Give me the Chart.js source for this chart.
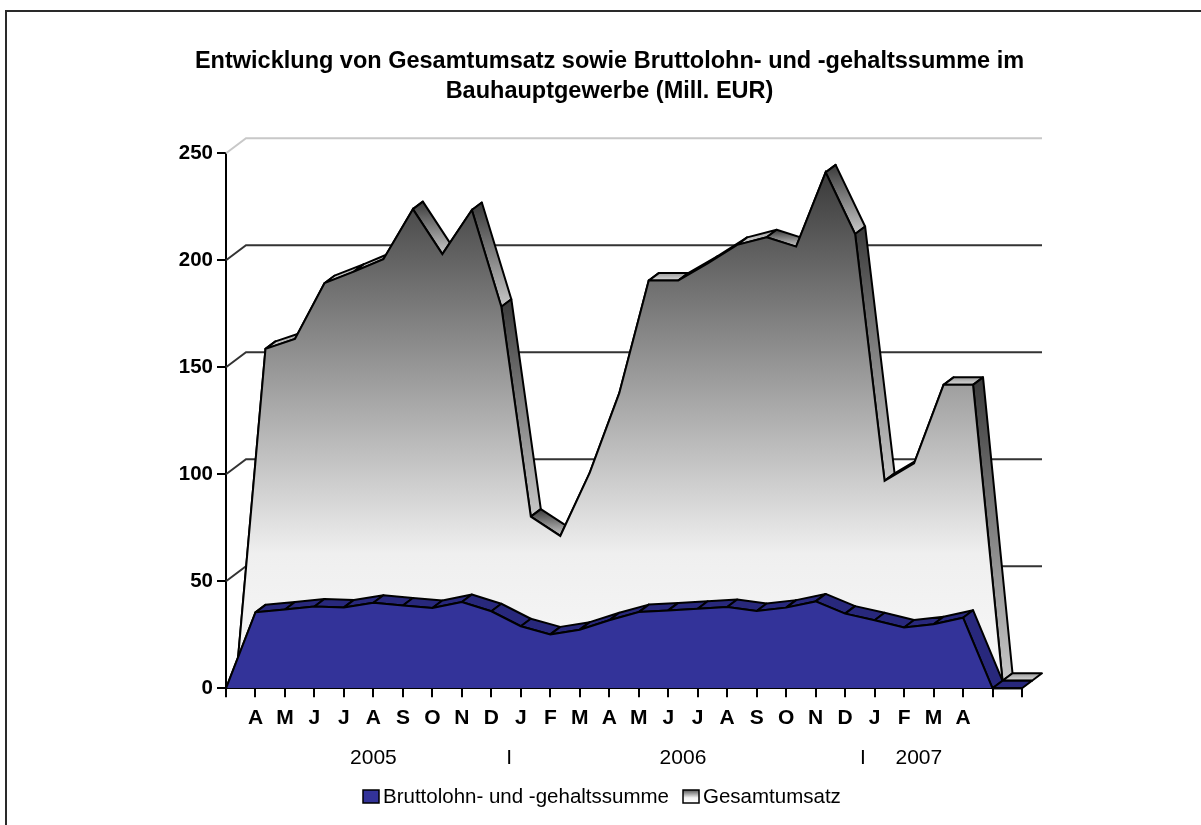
<!DOCTYPE html>
<html>
<head>
<meta charset="utf-8">
<script src="https://cdn.jsdelivr.net/npm/chart.js@4/dist/chart.umd.min.js"></script>
<style>
  html, body { margin: 0; padding: 0; background: #fff; overflow: hidden; }
  #wrap { position: relative; width: 1201px; height: 825px; }
  #frame { position: absolute; left: 5px; top: 10px; width: 1300px; height: 900px; border: 2px solid #2a2a2a; }
  canvas { position: absolute; left: 0; top: 0; }
</style>
</head>
<body>
<div id="wrap">
  <div id="frame"></div>
  <canvas id="chart" width="1201" height="825"></canvas>
</div>
<script>
// x categories: empty slot, Apr 2005 .. Apr 2007, two empty slots
const months = ["", "A", "M", "J", "J", "A", "S", "O", "N", "D", "J", "F", "M",
  "A", "M", "J", "J", "A", "S", "O", "N", "D", "J", "F", "M", "A", "", ""];

const lohnsumme = [0, 35.5, 36.8, 38.2, 37.8, 40.0, 38.7, 37.5, 40.3, 36.0, 29.0, 25.2, 27.4,
  31.8, 35.6, 36.4, 37.2, 38.0, 36.1, 37.7, 40.6, 34.9, 31.8, 28.4, 29.9, 33.0, 0, 0];

const umsatz = [0, 155.1, 159.7, 185.8, 191.2, 197.0, 220.4, 199.4, 220.0, 174.8, 76.7, 67.7, 97.3,
  134.4, 187.0, 187.0, 195.0, 203.7, 207.3, 202.9, 237.6, 208.8, 93.4, 101.6, 138.3, 138.3, 0, 0];

const years = ["2005", "2006", "2007"];
const yearFirst = [1, 10, 22];
const yearLast = [9, 21, 25];

const titleLines = [
  "Entwicklung von Gesamtumsatz sowie Bruttolohn- und -gehaltssumme im",
  "Bauhauptgewerbe (Mill. EUR)"
];

const FONT = '"Liberation Sans", Arial, sans-serif';
const DEPTH = { x: 10, y: -7.5 };   // thickness of one series ribbon
const BACK = { x: 10, y: -7.5 };    // offset of the rear series
const WALL = { x: 20, y: -15 };     // offset of the back wall

function vGradient(ctx, top, bottom, stops) {
  const g = ctx.createLinearGradient(0, top, 0, bottom + 0.01);
  stops.forEach(s => g.addColorStop(s[0], s[1]));
  return g;
}

function greyFace(ctx, quad, slope) {
  const ys = quad.map(p => p.y);
  const top = Math.min(...ys), bottom = Math.max(...ys);
  if (slope > 0.05) return vGradient(ctx, top, bottom, [[0, "#3a3a3a"], [1, "#c8c8c8"]]);
  return vGradient(ctx, top, bottom, [[0, "#9c9c9c"], [1, "#dcdcdc"]]);
}

function blueFace() {
  return "#28287c";
}

function drawRibbon(chart, index, shift, colorFor) {
  const ctx = chart.ctx;
  const pts = chart.getDatasetMeta(index).data;
  ctx.save();
  ctx.lineWidth = 2;
  ctx.strokeStyle = "#000";
  ctx.lineJoin = "round";
  for (let i = 0; i < pts.length - 1; i++) {
    const a = { x: pts[i].x + shift.x, y: pts[i].y + shift.y };
    const b = { x: pts[i + 1].x + shift.x, y: pts[i + 1].y + shift.y };
    const quad = [a, b, { x: b.x + DEPTH.x, y: b.y + DEPTH.y }, { x: a.x + DEPTH.x, y: a.y + DEPTH.y }];
    const slope = (b.y - a.y) / (b.x - a.x);
    ctx.beginPath();
    quad.forEach((p, k) => (k ? ctx.lineTo(p.x, p.y) : ctx.moveTo(p.x, p.y)));
    ctx.closePath();
    ctx.fillStyle = colorFor(ctx, quad, slope);
    ctx.fill();
    ctx.stroke();
  }
  ctx.restore();
}

// back wall, ribbons and the offset of the rear series
const depthPlugin = {
  id: "depth",
  beforeDatasetsDraw(chart) {
    const { ctx, chartArea: area, scales: { y } } = chart;
    ctx.save();
    ctx.lineWidth = 2;
    y.ticks.forEach(t => {
      if (t.value === 0) return;
      const py = y.getPixelForValue(t.value);
      ctx.strokeStyle = t.value === y.max ? "#c8c8c8" : "#333";
      ctx.beginPath();
      ctx.moveTo(area.left, py);
      ctx.lineTo(area.left + WALL.x, py + WALL.y);
      ctx.lineTo(area.right + WALL.x, py + WALL.y);
      ctx.stroke();
    });
    ctx.restore();
    drawRibbon(chart, 1, BACK, greyFace);
    ctx.save();
    ctx.translate(BACK.x, BACK.y);
  },
  afterDatasetDraw(chart, args) {
    if (args.index === 1) {
      chart.ctx.restore();
      drawRibbon(chart, 0, { x: 0, y: 0 }, blueFace);
    }
  },
  afterDraw(chart) {
    const { ctx, scales: { x } } = chart;
    ctx.save();
    ctx.fillStyle = "#000";
    ctx.textBaseline = "alphabetic";

    ctx.textAlign = "center";
    ctx.font = "bold 23.5px " + FONT;
    titleLines.forEach((t, i) => ctx.fillText(t, 609.5, 68.3 + i * 30));

    ctx.font = "21px " + FONT;
    years.forEach((yr, i) => {
      const cx = (x.getPixelForValue(yearFirst[i]) + x.getPixelForValue(yearLast[i])) / 2;
      ctx.fillText(yr, cx, 764);
      if (i > 0) {
        const sx = (x.getPixelForValue(yearLast[i - 1]) + x.getPixelForValue(yearFirst[i])) / 2 + 3;
        ctx.fillText("I", sx, 764);
      }
    });

    // legend
    ctx.textAlign = "left";
    ctx.font = "20.5px " + FONT;
    let lx = 363;
    chart.data.datasets.forEach((ds, i) => {
      const by = 790, bw = 16, bh = 13;
      ctx.fillStyle = i === 0 ? "#333399"
        : vGradient(ctx, by, by + bh, [[0, "#555"], [0.6, "#f4f4f4"], [1, "#fff"]]);
      ctx.fillRect(lx, by, bw, bh);
      ctx.lineWidth = 1.5;
      ctx.strokeStyle = "#000";
      ctx.strokeRect(lx, by, bw, bh);
      ctx.fillStyle = "#000";
      ctx.fillText(ds.label, lx + bw + 4, 803.3);
      lx += bw + 4 + ctx.measureText(ds.label).width + 14;
    });
    ctx.restore();
  }
};

new Chart(document.getElementById("chart"), {
  type: "line",
  data: {
    labels: months,
    datasets: [{
      label: "Bruttolohn- und -gehaltssumme",
      data: lohnsumme,
      backgroundColor: "#333399",
      borderColor: "#000",
      borderWidth: 2,
      fill: "origin",
      pointRadius: 0,
      tension: 0,
      clip: false
    }, {
      label: "Gesamtumsatz",
      data: umsatz,
      backgroundColor(c) {
        const { chart } = c;
        if (!chart.chartArea) return "#999";
        const y = chart.scales.y;
        return vGradient(chart.ctx, y.getPixelForValue(Math.max(...umsatz)), y.getPixelForValue(0),
          [[0, "#3a3a3a"], [0.75, "#efefef"], [1, "#f8f8f8"]]);
      },
      borderColor: "#000",
      borderWidth: 2,
      fill: "origin",
      pointRadius: 0,
      tension: 0,
      clip: false
    }]
  },
  options: {
    responsive: false,
    animation: false,
    devicePixelRatio: 1,
    layout: { padding: { top: 153.3, right: 179, bottom: 91.7, left: 0 } },
    plugins: {
      legend: { display: false },
      title: { display: false },
      tooltip: { enabled: false }
    },
    scales: {
      x: {
        type: "category",
        offset: false,
        z: 1,
        afterFit(s) { s.height = 45; },
        grid: { drawOnChartArea: false, drawTicks: true, tickLength: 9, color: "#000", lineWidth: 2 },
        border: { display: true, color: "#000", width: 2 },
        ticks: { autoSkip: false, maxRotation: 0, padding: 8, color: "#000", font: { family: FONT, size: 21, weight: "bold" } }
      },
      y: {
        min: 0,
        max: 250,
        z: 1,
        afterFit(s) { s.width = 226; },
        grid: { drawOnChartArea: false, drawTicks: true, tickLength: 9, color: "#000", lineWidth: 2 },
        border: { display: true, color: "#000", width: 2 },
        ticks: { stepSize: 50, padding: 4, color: "#000", font: { family: FONT, size: 20.5, weight: "bold" } }
      }
    }
  },
  plugins: [depthPlugin]
});
</script>
</body>
</html>
